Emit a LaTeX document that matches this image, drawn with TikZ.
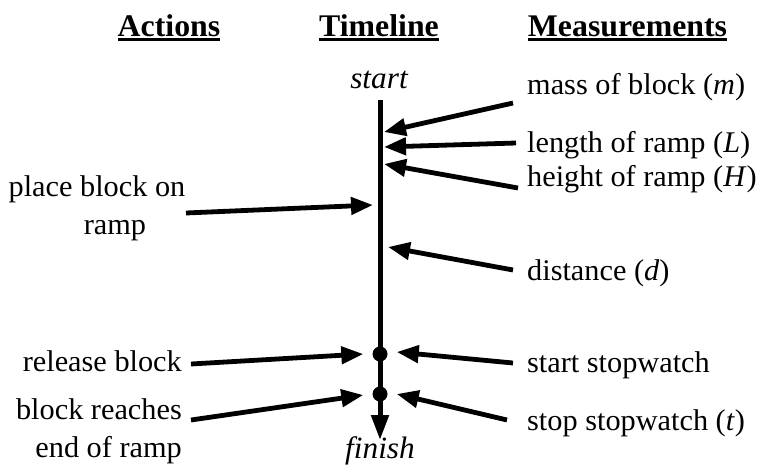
\documentclass[tikz,border=0pt]{standalone}
\usepackage{fontspec}
\setmainfont{Liberation Serif}[FakeStretch=1.01]
\usetikzlibrary{arrows.meta}
\begin{document}
\begin{tikzpicture}[x=1pt,y=-1pt,
  lbl/.style={inner sep=0pt, font=\fontsize{30}{38}\selectfont},
  head/.style={inner sep=0pt, font=\fontsize{31.5}{38}\selectfont\bfseries},
  endlabel/.style={inner sep=0pt, font=\fontsize{31}{38}\selectfont\itshape},
  pointer/.style={line width=4.8pt, -{Triangle[length=22pt,width=17pt]}},
  event/.style={circle, fill=black, inner sep=0pt, minimum size=15pt},
  rule/.style={line width=2.7pt},
]
\useasboundingbox (0,0) rectangle (759,466);

% column headings
\node[head, anchor=base] (hA) at (169,36) {Actions};
\node[head, anchor=base] (hT) at (379,36) {Timeline};
\node[head, anchor=base] (hM) at (627.5,36) {Measurements};
\foreach \h in {hA,hT,hM}
  \draw[rule] ([yshift=-3.5pt]\h.base west) -- ([yshift=-3.5pt]\h.base east);

% the timeline
\node[endlabel, anchor=base] (start) at (379,88) {start};
\node[endlabel, anchor=base] (finish) at (380,458) {finish};
\coordinate (top) at (380,100);
\coordinate (bottom) at (380,440);
\draw[line width=5pt, -{Triangle[length=25pt,width=17pt]}] (top) -- (bottom);
\node[event] (release) at (380,354) {};
\node[event] (arrive) at (380,394) {};

% points on the timeline
\coordinate (tm) at (384,132);
\coordinate (tl) at (384,147);
\coordinate (th) at (384,164);
\coordinate (td) at (388,247);
\coordinate (tp) at (373,205);

% actions (the base of a two-line label is its last line)
\node[lbl, align=center, anchor=base] (place) at (97,234) {place block on\\\hspace*{36pt}ramp};
\node[lbl, anchor=base east] (rel) at (182,371) {release block};
\node[lbl, align=right, anchor=base east] (reach) at (182,457) {block reaches\\end of ramp};
\coordinate (place-end) at (186,213);
\coordinate (rel-end) at (191,364);
\coordinate (reach-end) at (191,420);

% measurements
\node[lbl, anchor=base west] (mass) at (527,94) {mass of block (\textit{m})};
\node[lbl, anchor=base west] (len) at (527,152) {length of ramp (\textit{L})};
\node[lbl, anchor=base west] (hgt) at (527,186) {height of ramp (\textit{H})};
\node[lbl, anchor=base west] (dist) at (527,280) {distance (\textit{d})};
\node[lbl, anchor=base west] (sw1) at (527,372) {start stopwatch};
\node[lbl, anchor=base west] (sw2) at (527,430) {stop stopwatch (\textit{t})};
\coordinate (mass-end) at (513,103);
\coordinate (len-end) at (516,143);
\coordinate (hgt-end) at (518,188);
\coordinate (dist-end) at (513,270);
\coordinate (sw1-end) at (513,363);
\coordinate (sw2-end) at (507,420);

% connectors
\draw[pointer] (place-end) -- (tp);
\draw[pointer] (rel-end) -- ([xshift=-9pt]release.west);
\draw[pointer] (reach-end) -- ([xshift=-9pt,yshift=-1pt]arrive.west);
\draw[pointer] (mass-end) -- (tm);
\draw[pointer] (len-end) -- (tl);
\draw[pointer] (hgt-end) -- (th);
\draw[pointer] (dist-end) -- (td);
\draw[pointer] (sw1-end) -- ([xshift=9pt,yshift=2pt]release.east);
\draw[pointer] (sw2-end) -- ([xshift=9pt]arrive.east);
\end{tikzpicture}
\end{document}
